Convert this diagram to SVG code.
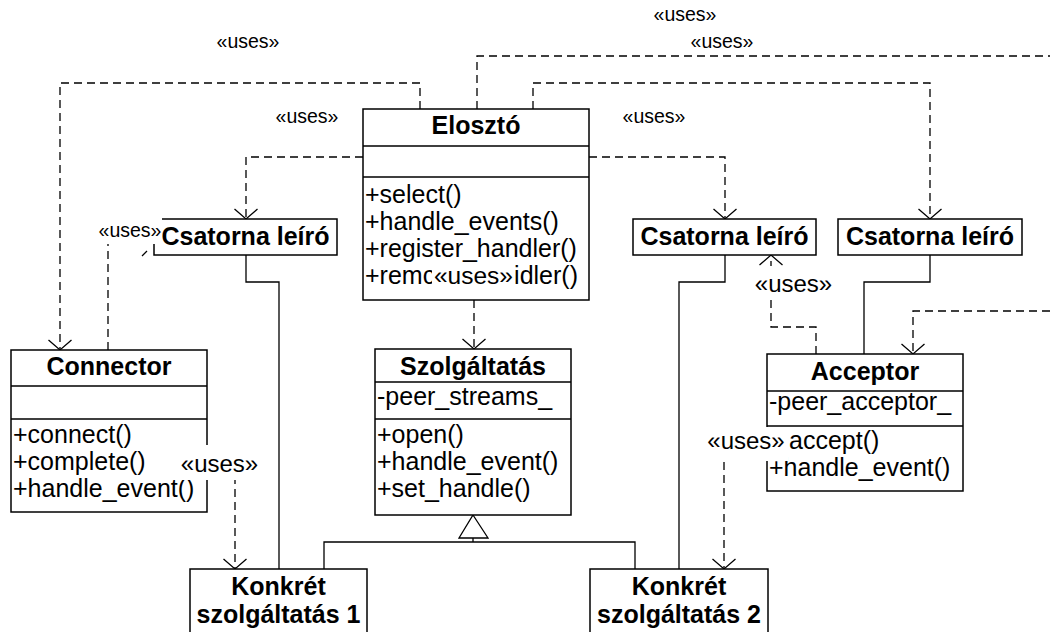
<svg xmlns="http://www.w3.org/2000/svg" width="1050" height="632" viewBox="0 0 1050 632">
<style>
.box{fill:#fff;stroke:#000;stroke-width:1.5}
.ln{fill:none;stroke:#000;stroke-width:1.5}
.dash{fill:none;stroke:#000;stroke-width:1.3;stroke-dasharray:8 5}
.solid{fill:none;stroke:#000;stroke-width:1.3}
text{font-family:"Liberation Sans",Arial,Helvetica,sans-serif;fill:#000}
.ttl{font-size:25px;font-weight:bold;text-anchor:middle}
.m{font-size:25px}
.lbl{text-anchor:middle}
.bg{fill:#fff;stroke:none}
</style>
<defs>
<marker id="open" viewBox="-15 -15 30 30" refX="0" refY="0" markerWidth="30" markerHeight="30" markerUnits="userSpaceOnUse" orient="auto">
<path d="M -10 -11.5 L 0 0 L -10 11.5" fill="none" stroke="#000" stroke-width="1.3"/>
</marker>
</defs>
<rect width="1050" height="632" fill="#fff"/>
<g id="connectors">
<path class="dash" d="M 420 109 V 83 H 60 V 350" marker-end="url(#open)"/>
<path class="dash" d="M 477 109 V 56 H 1050"/>
<path class="dash" d="M 533 109 V 83 H 930 V 219" marker-end="url(#open)"/>
<path class="dash" d="M 363 157 H 246 V 219" marker-end="url(#open)"/>
<path class="dash" d="M 589 157 H 725 V 219" marker-end="url(#open)"/>
<path class="dash" d="M 474 300 V 349" marker-end="url(#open)"/>
<path class="dash" d="M 108 350 V 238 H 150"/>
<path class="solid" d="M 142 256 L 147 251"/>
<path class="dash" d="M 816 354 V 327 H 771 V 255" marker-end="url(#open)"/>
<path class="dash" d="M 1050 311 H 913 V 354" marker-end="url(#open)"/>
<path class="dash" d="M 235 476 V 569" marker-end="url(#open)"/>
<path class="dash" d="M 724 462 V 569" marker-end="url(#open)"/>
<path class="solid" d="M 246 255 V 282 H 279 V 569"/>
<path class="solid" d="M 725 255 V 282 H 679 V 569"/>
<path class="solid" d="M 930 255 V 282 H 864 V 354"/>
<path class="solid" d="M 324 569 V 542 H 635 V 569 M 473 542 V 538"/>
<path class="solid" d="M 473 515 L 488 538 L 459 538 Z" fill="#fff"/>
</g>
<g id="elosztoNode">
<rect class="box" x="363" y="109" width="226" height="191"/>
<path class="ln" d="M 363 146 H 589 M 363 177 H 589"/>
<text class="ttl" x="476" y="134">Elosztó</text>
<text class="m" x="365" y="203">+select()</text>
<text class="m" x="365" y="230">+handle_events()</text>
<text class="m" x="365" y="257">+register_handler()</text>
<text class="m" x="365" y="284">+remc</text>
<text class="m" x="578" y="284" text-anchor="end">idler()</text>
</g>
<g id="csatorna1">
<rect class="box" x="154" y="219" width="183" height="36"/>
<text class="ttl" x="245.5" y="245">Csatorna leíró</text>
</g>
<g id="csatorna2">
<rect class="box" x="633" y="219" width="183" height="36"/>
<text class="ttl" x="724.5" y="245">Csatorna leíró</text>
</g>
<g id="csatorna3">
<rect class="box" x="838" y="219" width="184" height="36"/>
<text class="ttl" x="930" y="245">Csatorna leíró</text>
</g>
<g id="connectorNode">
<rect class="box" x="11" y="350" width="196" height="162"/>
<path class="ln" d="M 11 386 H 207 M 11 419 H 207"/>
<text class="ttl" x="109" y="375">Connector</text>
<text class="m" x="13" y="443">+connect()</text>
<text class="m" x="13" y="470">+complete()</text>
<text class="m" x="13" y="497">+handle_event()</text>
</g>
<g id="szolgaltatas">
<rect class="box" x="375" y="349" width="196" height="166"/>
<path class="ln" d="M 375 382 H 571 M 375 419 H 571"/>
<text class="ttl" x="473" y="375">Szolgáltatás</text>
<text class="m" x="377" y="405">-peer_streams_</text>
<text class="m" x="377" y="443">+open()</text>
<text class="m" x="377" y="470">+handle_event()</text>
<text class="m" x="377" y="497">+set_handle()</text>
</g>
<g id="acceptor">
<rect class="box" x="767" y="354" width="196" height="137"/>
<path class="ln" d="M 767 391 H 963 M 767 426 H 963"/>
<text class="ttl" x="865" y="380">Acceptor</text>
<text class="m" x="769" y="410">-peer_acceptor_</text>
<text class="m" x="789" y="449">accept()</text>
<text class="m" x="769" y="476">+handle_event()</text>
</g>
<g id="konkret1">
<rect class="box" x="190" y="569" width="177" height="80"/>
<text class="ttl" x="278.5" y="595">Konkrét</text>
<text class="ttl" x="278.5" y="623">szolgáltatás 1</text>
</g>
<g id="konkret2">
<rect class="box" x="590" y="569" width="178" height="80"/>
<text class="ttl" x="679" y="595">Konkrét</text>
<text class="ttl" x="679" y="623">szolgáltatás 2</text>
</g>
<g id="labels">
<text class="lbl" x="248" y="48" font-size="19.5">«uses»</text>
<text class="lbl" x="685" y="21" font-size="19.5">«uses»</text>
<text class="lbl" x="722" y="48" font-size="19.5">«uses»</text>
<text class="lbl" x="307" y="123" font-size="19.5">«uses»</text>
<text class="lbl" x="654" y="123" font-size="19.5">«uses»</text>
<rect class="bg" x="95" y="216" width="67" height="28"/>
<text class="lbl" x="130" y="237" font-size="19.5">«uses»</text>
<rect class="bg" x="432" y="263" width="83" height="30"/>
<text class="lbl" x="473.5" y="284" font-size="24.5">«uses»</text>
<rect class="bg" x="750" y="266" width="86" height="34"/>
<text class="lbl" x="793.5" y="292" font-size="24">«uses»</text>
<rect class="bg" x="703" y="427" width="85" height="34"/>
<text class="lbl" x="746" y="449" font-size="24">«uses»</text>
<rect class="bg" x="178" y="445" width="83" height="35"/>
<text class="lbl" x="219.5" y="472" font-size="24">«uses»</text>
</g>
</svg>
